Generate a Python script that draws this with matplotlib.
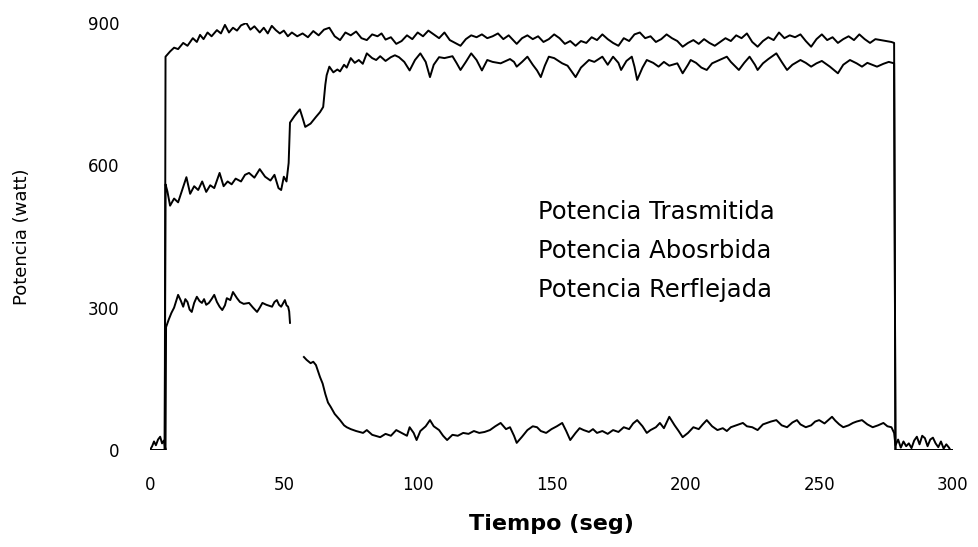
import numpy as np
import matplotlib
matplotlib.use("Agg")
import matplotlib.pyplot as plt

# Datos (tiempo en seg, potencia en watt)
nan = np.nan

t_tras = [0, 2, 4, 5.5, 5.8, 7.5, 9, 10.5, 12.4, 14, 16, 17.5, 18.7, 20, 21.5, 23, 25, 26.5, 28, 29.5,
          31, 32.5, 34, 36, 37.5, 39, 41, 42.5, 44, 45.5, 47, 48.5, 50, 51.5, 53, 55, 57, 59, 61, 63,
          65, 67, 69, 71, 73, 75, 77, 79, 81, 83, 85, 86.5, 88, 90, 92, 94, 96, 98, 100, 102,
          104, 106, 108, 110, 112, 114, 116, 118, 120, 122, 124, 126, 128, 130, 132, 134, 136, 137, 139, 141,
          143, 145, 147, 149, 151, 153, 155, 157, 159, 161, 163, 165, 167, 169, 171, 173, 175, 177, 179, 181,
          183, 185, 187, 189, 191, 193, 195, 197, 199, 201, 203, 205, 207, 209, 211, 213, 215, 217, 219, 221,
          223, 225, 227, 229, 231, 233, 235, 237, 239, 241, 243, 245, 247, 249, 251, 253, 255, 257, 259, 261,
          263, 265, 267, 269, 271, 273, 275, 277, 278, 278.5, 285, 300]
p_tras = [0, 0, 0, 0, 829, 840, 848, 845, 858, 852, 868, 860, 875, 866, 880, 872, 885, 878, 896, 880,
          890, 884, 895, 900, 886, 893, 880, 890, 878, 894, 885, 878, 884, 872, 880, 872, 878, 870, 883, 874,
          886, 890, 872, 864, 880, 874, 882, 868, 864, 876, 872, 878, 865, 870, 856, 862, 874, 866, 880, 872,
          884, 876, 868, 880, 864, 858, 852, 866, 874, 870, 876, 868, 872, 878, 866, 874, 862, 856, 868, 874,
          866, 872, 860, 866, 876, 868, 856, 862, 852, 862, 858, 870, 864, 876, 866, 858, 852, 868, 862, 876,
          880, 868, 872, 860, 866, 876, 868, 862, 850, 858, 864, 856, 866, 858, 852, 860, 868, 862, 874, 868,
          878, 860, 850, 862, 870, 864, 880, 868, 874, 870, 876, 862, 850, 866, 876, 864, 870, 858, 866, 872,
          864, 876, 866, 858, 866, 864, 862, 860, 858, 0, 0, 0]

t_abs = [0, 2, 4, 5.5, 5.8, 6.5, 7.5, 9, 10.5, 12, 13.6, 15, 16.5, 18, 19.5, 21, 22.5, 24, 26, 27.5,
         29, 30.5, 32, 34, 35.5, 37, 39, 41, 43, 45, 46.5, 48, 49, 50, 51, 51.8, 52.3, 54, 56, 57,
         58, 60, 62, 63.5, 64.7, 65.5, 66, 67, 68.5, 70, 71, 72.5, 73.5, 75, 76.5, 78, 79.5, 81, 83, 84.5,
         86, 88, 90, 91.5, 93, 95, 97, 99, 101, 103, 104.6, 106, 108, 110, 113, 114.5, 116, 118, 120, 122,
         124, 126, 128, 131, 133, 134.5, 136, 137, 139, 141, 143, 144.6, 146, 147.5, 149, 151, 154, 156, 157.5, 159,
         161, 164, 166, 169, 171, 173, 175, 176, 178, 180, 181, 182, 184, 185.6, 188, 190, 192, 194, 197, 199,
         201, 202, 204, 206, 208, 210, 212, 215.5, 217, 220, 222, 224, 226, 227, 229, 231, 234, 236, 238, 240,
         243, 245, 247, 249, 251, 254, 257, 259, 261.5, 264, 266, 268, 271.6, 274, 276, 278, 278.5, 285, 300]
p_abs = [0, 0, 0, 0, 560, 545, 515, 530, 522, 548, 575, 540, 556, 548, 566, 544, 558, 552, 584, 556,
         566, 560, 572, 566, 580, 584, 574, 592, 576, 568, 580, 552, 548, 576, 566, 605, 690, 704, 718, 700,
         681, 688, 702, 712, 723, 770, 790, 808, 796, 802, 798, 812, 806, 826, 816, 822, 814, 836, 826, 822,
         830, 820, 828, 832, 828, 818, 800, 822, 836, 818, 786, 812, 828, 826, 830, 816, 801, 818, 836, 822,
         800, 822, 818, 815, 820, 824, 818, 808, 818, 829, 812, 800, 786, 810, 829, 826, 815, 810, 798, 786,
         806, 822, 818, 829, 812, 829, 816, 801, 820, 829, 808, 780, 806, 822, 816, 808, 818, 810, 815, 794,
         812, 822, 816, 806, 801, 815, 820, 829, 818, 801, 816, 829, 812, 801, 815, 824, 836, 818, 801, 812,
         822, 816, 808, 815, 820, 808, 794, 812, 822, 815, 808, 816, 808, 814, 818, 815, 0, 0, 0]

t_ref = [0, 0.8, 1.5, 2.2, 3, 3.8, 4.5, 5.2, 5.8, 6, 7, 8, 9, 10.5, 11.5, 12.4, 13.2, 14, 14.8, 15.6,
         16.5, 17.5, 18.5, 19.4, 20.2, 21, 22, 23, 24, 25, 26, 27, 28, 28.7, 30, 31, 32.5, 33.6, 35, 37,
         38.5, 40, 41, 42, 43.5, 45.6, 46.5, 47.4, 48.2, 49, 49.8, 50.4, 51, 51.6, 52, 52.3, 55, 57.5, 58.5, 60,
         61, 62, 63.5, 64.5, 65.5, 66.5, 67.5, 69, 71, 72.5, 73.5, 75, 77, 79.6, 81, 83, 86, 88, 90, 92,
         94, 96, 97, 98.5, 99.6, 101, 103, 104.6, 106, 108, 109.5, 111, 113, 115, 117, 119, 121, 123, 125, 127,
         129, 131, 133, 134.5, 136, 137, 139, 141, 143, 144.6, 146, 148, 150, 152, 154, 155.5, 157, 159, 160.5, 162,
         164, 165.5, 167, 169, 171, 173, 175, 177, 179, 180.5, 182, 184, 185.6, 187, 189, 190.5, 192, 194, 196, 197.5,
         199, 201, 203, 205, 206.5, 208, 210, 212, 214, 215.5, 217, 219, 221.5, 223, 225, 227, 229, 230.5, 232, 234,
         236, 238, 240, 241.7, 243, 245, 247, 248.5, 250, 252, 254.8, 256, 257.5, 259, 261, 262.6, 264, 266, 268, 270,
         272, 274, 275.5, 277, 278, 278.5, 279.5, 280.5, 281.5, 282.5, 283.5, 284.5, 285.5, 286.5, 287.5, 288.5, 289.5, 290.5, 291.5, 292.5,
         293.5, 294.5, 295.5, 296.5, 297.5, 298.5, 299]
p_ref = [0, 8, 18, 10, 22, 28, 14, 20, 0, 259, 275, 289, 300, 327, 315, 302, 318, 312, 296, 291,
         310, 323, 314, 310, 318, 306, 310, 318, 327, 312, 302, 295, 305, 320, 316, 333, 320, 312, 308, 310,
         300, 291, 300, 310, 306, 302, 312, 316, 306, 302, 310, 316, 305, 302, 292, 268, nan, 196, 190, 183,
         186, 179, 154, 140, 118, 100, 91, 76, 63, 52, 48, 44, 40, 36, 42, 32, 27, 34, 30, 42,
         36, 30, 48, 36, 21, 40, 50, 63, 50, 42, 30, 21, 32, 30, 36, 34, 40, 36, 38, 42,
         50, 57, 44, 48, 30, 15, 28, 42, 50, 48, 40, 36, 44, 50, 57, 40, 21, 36, 46, 42,
         38, 44, 36, 40, 34, 42, 38, 48, 44, 56, 63, 50, 36, 42, 48, 57, 46, 70, 52, 40,
         27, 36, 48, 44, 54, 63, 50, 42, 46, 40, 48, 52, 57, 50, 48, 42, 54, 57, 60, 63,
         52, 48, 58, 63, 54, 48, 52, 60, 63, 56, 70, 62, 54, 48, 52, 57, 60, 63, 54, 48,
         52, 57, 50, 48, 36, 10, 22, 5, 18, 8, 14, 4, 20, 28, 12, 30, 25, 8, 22, 26,
         14, 6, 18, 3, 12, 5, 0]

etiquetas = ["Potencia Trasmitida", "Potencia Abosrbida", "Potencia Rerflejada"]

plt.rcParams['font.family'] = ['DejaVu Sans']

fig = plt.figure(figsize=(9.79, 5.47), dpi=100)
ax = fig.add_axes([150 / 979, 1 - 450 / 547, 803 / 979, 427 / 547])

for t, p in [(t_tras, p_tras), (t_abs, p_abs), (t_ref, p_ref)]:
    ax.plot(t, p, color='black', lw=1.4)

ax.set_xlim(0, 300)
ax.set_ylim(0, 900)
ax.set_xticks([0, 50, 100, 150, 200, 250, 300])
ax.set_yticks([0, 300, 600, 900])
for s in ax.spines.values():
    s.set_visible(False)
ax.tick_params(axis='both', length=0, labelsize=12)
ax.tick_params(axis='x', pad=19)
ax.tick_params(axis='y', pad=22)

ax.set_xlabel("Tiempo (seg)", fontsize=16, fontweight='bold')
ax.xaxis.set_label_coords(0.5, -0.15)
ax.set_ylabel("Potencia (watt)", fontsize=13)
ax.yaxis.set_label_coords(-0.148, 0.5)

# texto de las series
for i, txt in enumerate(etiquetas):
    ax.text(0.483, 0.558 - i * 0.092, txt, transform=ax.transAxes,
            fontsize=17.5, va='center', ha='left')

fig.savefig("out.png", dpi=100)
